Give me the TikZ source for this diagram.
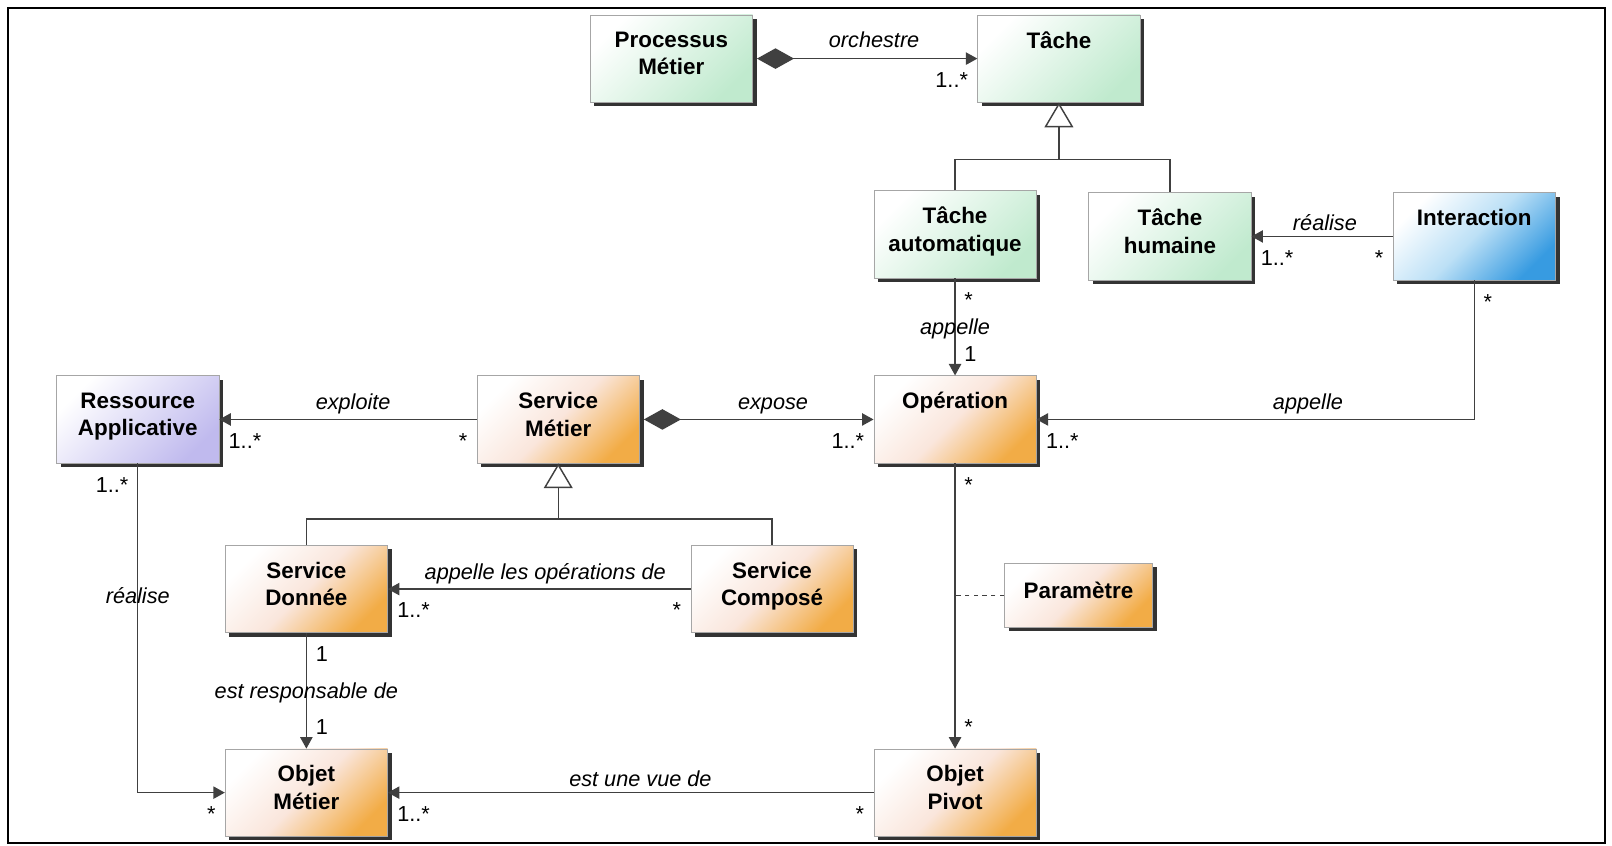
\documentclass[tikz,border=0pt]{standalone}
\usepackage{fontspec}
\setmainfont{Liberation Sans}
\usepackage{tikz}
\usetikzlibrary{positioning,shapes,arrows.meta,shadows}

\definecolor{menthe}{RGB}{192,234,206}
\definecolor{ciel}{RGB}{55,155,225}
\definecolor{cielclair}{RGB}{188,224,246}
\definecolor{lavande}{RGB}{192,186,238}
\definecolor{abricotclair}{RGB}{250,230,220}
\definecolor{abricotfonce}{RGB}{242,172,70}

\begin{document}
\begin{tikzpicture}
            [x=0.025cm,y=-0.025cm,
             classe/.style={draw=black!35, line width=0.4pt, minimum width=3.95cm, minimum height=2.125cm,
               align=center, font=\fontsize{15.5}{19}\selectfont\bfseries,
               general shadow={fill=black!80, shadow xshift=0.1cm, shadow yshift=-0.1cm},
               execute at end node={\rule[-2.5mm]{0pt}{0pt}}},
             vert/.style={top color=white, bottom color=menthe, shading angle=45},
             bleu/.style={top color=white, bottom color=ciel, middle color=cielclair, shading angle=45},
             mauve/.style={top color=white, bottom color=lavande, shading angle=45},
             abricot/.style={top color=white, bottom color=abricotfonce, middle color=abricotclair, shading angle=45},
             lien/.style={draw=black!75, line width=1pt},
             assoc/.style={lien, -{Triangle[length=2.8mm,width=3mm]}},
             gen/.style={lien, -{Triangle[open, length=6mm, width=7mm, fill=white]}},
             role/.style={font=\fontsize{15}{18}\selectfont\itshape},
             mult/.style={font=\fontsize{15}{18}\selectfont, inner xsep=6pt, inner ysep=9pt}]
          \useasboundingbox (0,0) rectangle (1568,822);
          \draw[line width=1.2pt] (8,8) rectangle (1561,820);

          \node[classe, vert] (proc) at (653,57) {Processus\\Métier};
          \node[classe, vert] (tache) at (1030,57) {Tâche\\\mbox{}};
          \node[classe, vert] (tauto) at (929,228) {Tâche\\automatique};
          \node[classe, vert] (thum) at (1138,230) {Tâche\\humaine};
          \node[classe, bleu] (inter) at (1434,230) {Interaction\\\mbox{}};

          \node[classe, mauve] (ress) at (134,408) {Ressource\\Applicative};
          \node[classe, abricot] (smet) at (543,408) {Service\\Métier};
          \node[classe, abricot] (oper) at (929,408) {Opération\\\mbox{}};

          \node[classe, abricot] (sdon) at (298,573) {Service\\Donnée};
          \node[classe, abricot] (scomp) at (751,573) {Service\\Composé};
          \node[classe, abricot, minimum width=3.6cm, minimum height=1.55cm] (param) at (1049,579) {Paramètre};

          \node[classe, abricot] (ometier) at (298,771) {Objet\\Métier};
          \node[classe, abricot] (opivot) at (929,771) {Objet\\Pivot};

          \coordinate (g1) at (1030,155);
          \coordinate (g2) at (543,505);

          % compositions
          \draw[lien, {Diamond[length=9mm,width=5mm]}-{Triangle[length=2.8mm,width=3mm]}, shorten <=1mm] (proc) -- node[pos=0.54, above, role, yshift=4pt]{orchestre} node[at end, below left, mult]{1..*} (tache);
          \draw[lien, {Diamond[length=9mm,width=5mm]}-{Triangle[length=2.8mm,width=3mm]}, shorten <=1mm] (smet) -- node[pos=0.57, above, role]{expose} node[at end, below left, mult]{1..*} (oper);

          % heritages
          \draw[gen] (g1) -- (tache.south);
          \draw[lien] (tauto.north) |- (g1) -| (thum.north);
          \draw[gen] (g2) -- (smet.south);
          \draw[lien] (sdon.north) |- (g2) -| (scomp.north);

          \foreach \from/\to/\nom in {inter/thum/réalise, smet/ress/exploite, scomp/sdon/appelle les opérations de, opivot/ometier/est une vue de}
            \draw[assoc] (\from) -- node[pos=0.48, above, role]{\nom} node[at start, below left, mult]{*} node[at end, below right, mult]{1..*} (\to);

          \foreach \from/\to/\nom/\mhaut/\mbas in {tauto/oper/appelle/*/1, sdon/ometier/est responsable de/1/1, oper/opivot/{}/*/*}
            \draw[assoc] (\from) -- node[pos=0.52, role]{\nom} node[at start, below right, mult]{\mhaut} node[at end, above right, mult]{\mbas} (\to);

          \draw[assoc] (inter.south) |- node[pos=0.69, above, role]{appelle} node[at start, below right, mult]{*} node[at end, below right, mult]{1..*} (oper.east);
          \draw[assoc] (ress.south) |- node[pos=0.2, role]{réalise} node[at start, below left, mult]{1..*} node[at end, below left, mult]{*} (ometier.west);

          \draw[lien, dashed] (param.west) -- (param.west -| oper.south);
        \end{tikzpicture}
\end{document}
